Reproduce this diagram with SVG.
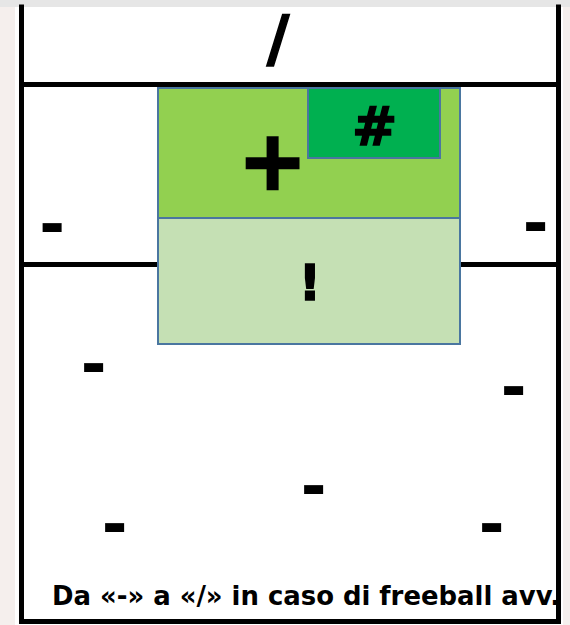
<svg xmlns="http://www.w3.org/2000/svg" width="570" height="625" viewBox="0 0 570 625">
<style>
.line{stroke:#000;stroke-width:5;fill:none;stroke-linecap:square}
.zone{stroke:#4a76a0;stroke-width:2}
.sym{font-family:"DejaVu Sans",sans-serif;font-weight:bold;fill:#000;stroke:#000;text-anchor:middle}
.dash{font-family:"DejaVu Sans",sans-serif;font-weight:bold;font-size:62px;fill:#000;text-anchor:middle}
.note{font-family:"DejaVu Sans Condensed","DejaVu Sans",sans-serif;font-weight:bold;font-size:26px;fill:#000}
</style>
<rect x="0" y="0" width="570" height="625" fill="#f5efed"/>
<rect x="0" y="0" width="570" height="7" fill="#e6e6e6"/>
<rect x="15" y="7" width="548" height="618" fill="#fff"/>
<g id="bottom-note">
<text class="note" x="52" y="605" textLength="508" lengthAdjust="spacingAndGlyphs">Da «-» a «/» in caso di freeball avv.</text>
</g>
<g id="connectors">
<line class="line" x1="21.5" y1="7" x2="21.5" y2="621.5"/>
<line class="line" x1="558.5" y1="7" x2="558.5" y2="621.5"/>
<line class="line" x1="21.5" y1="84.5" x2="558.5" y2="84.5"/>
<line class="line" x1="21.5" y1="264.5" x2="558.5" y2="264.5"/>
<line class="line" x1="21.5" y1="621.5" x2="558.5" y2="621.5"/>
</g>
<g id="zone-plus">
<rect class="zone" x="158" y="88" width="302" height="130" fill="#92d050"/>
<text class="sym" x="272.5" y="189" font-size="82" stroke-width="2.5">+</text>
</g>
<g id="zone-hash">
<rect class="zone" x="308" y="88" width="132" height="70" fill="#00b050"/>
<text class="sym" x="374.5" y="145" font-size="54" stroke-width="1.5">#</text>
</g>
<g id="zone-excl">
<rect class="zone" x="158" y="218" width="302" height="126" fill="#c5e0b4"/>
<text class="sym" x="310" y="300" font-size="49" stroke-width="1.5">!</text>
</g>
<g id="slash">
<text class="sym" x="278" y="60" font-size="62" stroke-width="1.5">/</text>
</g>
<g id="dashes">
<text class="dash" x="52" y="245.5">-</text>
<text class="dash" x="535.5" y="244.5">-</text>
<text class="dash" x="93.5" y="386">-</text>
<text class="dash" x="513.5" y="409">-</text>
<text class="dash" x="313.5" y="507.5">-</text>
<text class="dash" x="114.5" y="546">-</text>
<text class="dash" x="491.5" y="546">-</text>
</g>
</svg>
